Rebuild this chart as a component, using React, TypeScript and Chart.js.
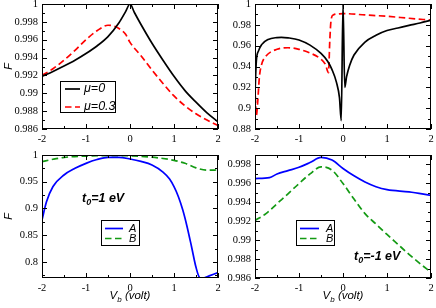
import React, { useEffect, useRef } from 'react';
import { Chart, registerables } from 'chart.js';

Chart.register(...registerables);

const W = 436;
const H = 308;

// ---------- data ----------
const X_TICKS = [-2, -1, 0, 1, 2];

// top-left panel
const TL_Y_TICKS = [0.986, 0.988, 0.99, 0.992, 0.994, 0.996, 0.998, 1];
const TL_MU0_X = [-2, -1.75, -1.5, -1.25, -1, -0.75, -0.5, -0.25, -0.1, 0, 0.1, 0.25, 0.5, 0.75, 1, 1.25, 1.5, 1.75, 2];
const TL_MU0_Y = [0.9919, 0.99245, 0.99305, 0.9937, 0.99445, 0.9953, 0.99635, 0.9979, 0.99915, 1.0, 0.99905, 0.9977, 0.9956, 0.9937, 0.9919, 0.9903, 0.989, 0.9878, 0.9868];
const TL_MU03_X = [-2, -1.75, -1.5, -1.25, -1, -0.75, -0.5, -0.35, -0.2, -0.1, 0, 0.25, 0.5, 0.75, 1, 1.25, 1.5, 1.75, 2];
const TL_MU03_Y = [0.992, 0.99275, 0.9937, 0.9948, 0.996, 0.997, 0.99762, 0.9975, 0.99708, 0.9966, 0.9957, 0.9942, 0.9926, 0.9911, 0.9897, 0.9886, 0.9877, 0.987, 0.9864];

// top-right panel
const TR_Y_TICKS = [0.88, 0.9, 0.92, 0.94, 0.96, 0.98, 1];
const TR_MU0_X = [-2, -1.97, -1.92, -1.85, -1.7, -1.5, -1.4, -1.25, -1, -0.75, -0.5, -0.35, -0.25, -0.15, -0.08, -0.04, 0, 0.04, 0.08, 0.15, 0.25, 0.5, 0.75, 1, 1.25, 1.5, 1.75, 2];
const TR_MU0_Y = [0.915, 0.945, 0.955, 0.961, 0.966, 0.9678, 0.968, 0.9675, 0.9655, 0.9605, 0.9525, 0.945, 0.937, 0.925, 0.91, 0.888, 1.0, 0.92, 0.93, 0.941, 0.951, 0.9635, 0.97, 0.9745, 0.977, 0.9795, 0.9818, 0.9845];
const TR_MU03_X = [-2, -1.97, -1.94, -1.9, -1.85, -1.75, -1.5, -1.25, -1, -0.75, -0.5, -0.4, -0.33, -0.3, -0.27, -0.22, -0.1, 0, 0.5, 1, 1.5, 2];
const TR_MU03_Y = [0.921, 0.893, 0.905, 0.93, 0.942, 0.95, 0.9565, 0.958, 0.9565, 0.953, 0.947, 0.942, 0.934, 0.965, 0.985, 0.9895, 0.9905, 0.9908, 0.9895, 0.9882, 0.9863, 0.9845];

// bottom-left panel (t0 = 1 eV)
const BL_Y_TICKS = [0.8, 0.85, 0.9, 0.95, 1];
const BL_A_X = [-2, -1.9, -1.75, -1.5, -1.25, -1, -0.75, -0.5, -0.25, 0, 0.25, 0.5, 0.75, 0.9, 1, 1.1, 1.2, 1.3, 1.4, 1.5, 1.58, 1.65, 1.8, 2];
const BL_A_Y = [0.8785, 0.912, 0.941, 0.9626, 0.975, 0.9844, 0.9915, 0.9955, 0.9955, 0.9925, 0.988, 0.9813, 0.968, 0.955, 0.9407, 0.922, 0.897, 0.865, 0.828, 0.79, 0.771, 0.7695, 0.774, 0.78];
const BL_B_X = [-2, -1.75, -1.5, -1, -0.5, 0, 0.5, 0.75, 1, 1.25, 1.5, 1.75, 2];
const BL_B_Y = [0.9875, 0.992, 0.9955, 0.998, 0.999, 0.9985, 0.996, 0.9935, 0.99, 0.9845, 0.976, 0.9715, 0.972];

// bottom-right panel (t0 = -1 eV)
const BR_Y_TICKS = [0.986, 0.988, 0.99, 0.992, 0.994, 0.996, 0.998];
const BR_A_X = [-2, -1.67, -1.5, -1.25, -1, -0.75, -0.5, -0.25, 0, 0.25, 0.5, 0.75, 1, 1.5, 2];
const BR_A_Y = [0.99651, 0.9966, 0.997, 0.99735, 0.9977, 0.9982, 0.99874, 0.99846, 0.99758, 0.9968, 0.99615, 0.99565, 0.99534, 0.9951, 0.99474];
const BR_B_X = [-2, -1.75, -1.5, -1.25, -1, -0.75, -0.5, -0.25, 0, 0.25, 0.5, 0.75, 1, 1.25, 1.5, 1.75, 2];
const BR_B_Y = [0.99208, 0.9928, 0.99386, 0.9949, 0.99598, 0.997, 0.99775, 0.9974, 0.99598, 0.99435, 0.9928, 0.9917, 0.9906, 0.98955, 0.9885, 0.98752, 0.9866];

// ---------- styles ----------
const BLACK = '#000000';
const RED = '#ff0000';
const BLUE = '#0000ff';
const GREEN = '#139a13';
const SOLID: number[] = [];
const DASH = [6.5, 3.5];

const TICK_FONT = { family: '"Liberation Serif", "DejaVu Serif", serif', size: 10.5 };
const fmt = (v: number) => String(+Number(v).toFixed(4));

function series(xs: number[], ys: number[], color: string, dash: number[]) {
  return {
    data: xs.map((x, i) => ({ x, y: ys[i] })),
    borderColor: color,
    borderWidth: 1.7,
    borderDash: dash,
    pointRadius: 0,
    fill: false,
    cubicInterpolationMode: 'monotone' as const,
  };
}

function drawRich(ctx: CanvasRenderingContext2D, parts: { t: string; sub?: boolean }[], x: number, y: number, size: number, style: string, align: 'left' | 'center') {
  const main = `${style} ${size}px "Liberation Sans", Arial, sans-serif`;
  const subf = `${style} ${Math.round(size * 0.7)}px "Liberation Sans", Arial, sans-serif`;
  let total = 0;
  for (const p of parts) {
    ctx.font = p.sub ? subf : main;
    total += ctx.measureText(p.t).width;
  }
  let cx = align === 'center' ? x - total / 2 : x;
  ctx.textBaseline = 'middle';
  ctx.textAlign = 'left';
  for (const p of parts) {
    ctx.font = p.sub ? subf : main;
    ctx.fillText(p.t, cx, p.sub ? y + size * 0.3 : y);
    cx += ctx.measureText(p.t).width;
  }
}

const decoPlugin = {
  id: 'deco',
  afterDraw(chart: any, _args: any, o: any) {
    const ctx: CanvasRenderingContext2D = chart.ctx;
    const a = chart.chartArea;
    const xs = chart.scales.x;
    const ys = chart.scales.y;
    ctx.save();
    ctx.strokeStyle = '#000';
    ctx.fillStyle = '#000';
    ctx.lineWidth = 1;
    ctx.setLineDash([]);
    ctx.strokeRect(a.left + 0.5, a.top + 0.5, a.right - a.left - 1, a.bottom - a.top - 1);

    const MAJ = 5;
    const MIN = 3;
    const minors = (ticks: number[], lo: number, hi: number) => {
      const step = ticks[1] - ticks[0];
      const out: number[] = [];
      for (let v = ticks[0] - step / 2; v <= hi + 1e-9; v += step) if (v >= lo - 1e-9) out.push(v);
      return out;
    };
    ctx.beginPath();
    const xt = (v: number, len: number) => {
      const px = Math.round(xs.getPixelForValue(v)) + 0.5;
      ctx.moveTo(px, a.bottom);
      ctx.lineTo(px, a.bottom - len);
      ctx.moveTo(px, a.top);
      ctx.lineTo(px, a.top + len);
    };
    const yt = (v: number, len: number) => {
      const py = Math.round(ys.getPixelForValue(v)) + 0.5;
      ctx.moveTo(a.left, py);
      ctx.lineTo(a.left + len, py);
      ctx.moveTo(a.right, py);
      ctx.lineTo(a.right - len, py);
    };
    X_TICKS.forEach((v) => xt(v, MAJ));
    minors(X_TICKS, xs.min, xs.max).forEach((v) => xt(v, MIN));
    o.yTicks.forEach((v: number) => yt(v, MAJ));
    minors(o.yTicks, ys.min, ys.max).forEach((v) => yt(v, MIN));
    ctx.stroke();

    // y title
    if (o.yTitle) {
      ctx.save();
      ctx.translate(9, (a.top + a.bottom) / 2);
      ctx.rotate(-Math.PI / 2);
      ctx.font = 'italic 11px "Liberation Sans", Arial, sans-serif';
      ctx.textAlign = 'center';
      ctx.textBaseline = 'middle';
      ctx.fillText('F', 0, 0);
      ctx.restore();
    }
    // x title
    if (o.xTitle) {
      drawRich(ctx, [{ t: 'V' }, { t: 'b', sub: true }, { t: ' (volt)' }], (a.left + a.right) / 2, 296, 11.5, 'italic', 'center');
    }
    // legend
    if (o.legend) {
      const L = o.legend;
      ctx.fillStyle = '#fff';
      ctx.fillRect(L.x, L.y, L.w, L.h);
      ctx.strokeStyle = '#000';
      ctx.lineWidth = 1;
      ctx.strokeRect(L.x + 0.5, L.y + 0.5, L.w, L.h);
      L.items.forEach((it: any, i: number) => {
        const yy = L.y + L.first + i * L.gap;
        ctx.strokeStyle = it.color;
        ctx.lineWidth = 1.7;
        ctx.setLineDash(it.dash);
        ctx.beginPath();
        ctx.moveTo(L.x + L.lineX0, yy);
        ctx.lineTo(L.x + L.lineX1, yy);
        ctx.stroke();
        ctx.setLineDash([]);
        ctx.fillStyle = '#000';
        ctx.font = `italic ${L.size}px "Liberation Sans", Arial, sans-serif`;
        ctx.textAlign = 'left';
        ctx.textBaseline = 'middle';
        ctx.fillText(it.label, L.x + L.textX, yy);
      });
    }
    // annotation
    if (o.note) {
      ctx.fillStyle = '#000';
      drawRich(ctx, [{ t: 't' }, { t: '0', sub: true }, { t: o.note.text }], o.note.x, o.note.y, 12.5, 'bold italic', 'left');
    }
    ctx.restore();
  },
};

type PanelDef = {
  area: { left: number; top: number; right: number; bottom: number };
  yMin: number;
  yMax: number;
  yTicks: number[];
  datasets: any[];
  deco: any;
};

const PANELS: PanelDef[] = [
  {
    area: { left: 42, top: 4, right: 218, bottom: 129 },
    yMin: 0.986,
    yMax: 1,
    yTicks: TL_Y_TICKS,
    datasets: [series(TL_MU0_X, TL_MU0_Y, BLACK, SOLID), series(TL_MU03_X, TL_MU03_Y, RED, DASH)],
    deco: {
      yTitle: true,
      legend: {
        x: 60, y: 81, w: 55, h: 31, first: 8, gap: 18, lineX0: 5, lineX1: 20, textX: 24, size: 12.5,
        items: [
          { label: 'μ=0', color: BLACK, dash: SOLID },
          { label: 'μ=0.3', color: RED, dash: DASH },
        ],
      },
    },
  },
  {
    area: { left: 255, top: 4, right: 431, bottom: 129 },
    yMin: 0.88,
    yMax: 1,
    yTicks: TR_Y_TICKS,
    datasets: [series(TR_MU0_X, TR_MU0_Y, BLACK, SOLID), series(TR_MU03_X, TR_MU03_Y, RED, DASH)],
    deco: {},
  },
  {
    area: { left: 42, top: 155, right: 218, bottom: 278 },
    yMin: 0.77,
    yMax: 1,
    yTicks: BL_Y_TICKS,
    datasets: [series(BL_A_X, BL_A_Y, BLUE, SOLID), series(BL_B_X, BL_B_Y, GREEN, DASH)],
    deco: {
      yTitle: true,
      xTitle: true,
      legend: {
        x: 101, y: 220, w: 38, h: 25, first: 8.5, gap: 10, lineX0: 4, lineX1: 22, textX: 28, size: 11,
        items: [
          { label: 'A', color: BLUE, dash: SOLID },
          { label: 'B', color: GREEN, dash: DASH },
        ],
      },
      note: { text: '=1 eV', x: 82, y: 199 },
    },
  },
  {
    area: { left: 255, top: 155, right: 431, bottom: 278 },
    yMin: 0.986,
    yMax: 0.999,
    yTicks: BR_Y_TICKS,
    datasets: [series(BR_A_X, BR_A_Y, BLUE, SOLID), series(BR_B_X, BR_B_Y, GREEN, DASH)],
    deco: {
      xTitle: true,
      legend: {
        x: 296, y: 220, w: 38, h: 25, first: 8.5, gap: 10, lineX0: 4, lineX1: 23, textX: 30, size: 11,
        items: [
          { label: 'A', color: BLUE, dash: SOLID },
          { label: 'B', color: GREEN, dash: DASH },
        ],
      },
      note: { text: '=-1 eV', x: 354, y: 257 },
    },
  },
];

const Y_AXIS_W = 40;
const X_AXIS_H = 20;

function Panel({ def }: { def: PanelDef }) {
  const ref = useRef<HTMLCanvasElement>(null);
  useEffect(() => {
    const canvas = ref.current;
    if (!canvas) return;
    const a = def.area;
    const chart = new Chart(canvas, {
      type: 'line',
      data: { datasets: def.datasets },
      plugins: [decoPlugin as any],
      options: {
        animation: false,
        responsive: false,
        devicePixelRatio: 1,
        events: [],
        layout: {
          padding: {
            left: a.left - Y_AXIS_W,
            top: a.top,
            right: W - a.right,
            bottom: H - a.bottom - X_AXIS_H,
          },
        },
        plugins: {
          legend: { display: false },
          tooltip: { enabled: false },
          deco: { ...def.deco, yTicks: def.yTicks },
        } as any,
        scales: {
          x: {
            type: 'linear',
            min: -2,
            max: 2,
            grid: { display: false, drawTicks: false },
            border: { display: false },
            afterFit: (s: any) => {
              s.height = X_AXIS_H;
              s.paddingLeft = 0;
              s.paddingRight = 0;
            },
            afterBuildTicks: (s: any) => {
              s.ticks = X_TICKS.map((v) => ({ value: v }));
            },
            ticks: {
              autoSkip: false,
              maxRotation: 0,
              padding: 4,
              color: '#000',
              font: TICK_FONT,
              callback: (v: any) => fmt(v),
            },
          },
          y: {
            type: 'linear',
            min: def.yMin,
            max: def.yMax,
            grid: { display: false, drawTicks: false },
            border: { display: false },
            afterFit: (s: any) => {
              s.width = Y_AXIS_W;
              s.paddingTop = 0;
              s.paddingBottom = 0;
            },
            afterBuildTicks: (s: any) => {
              s.ticks = def.yTicks.map((v) => ({ value: v }));
            },
            ticks: {
              autoSkip: false,
              padding: 4,
              color: '#000',
              font: TICK_FONT,
              callback: (v: any) => fmt(v),
            },
          },
        },
      } as any,
    });
    return () => chart.destroy();
  }, [def]);
  return (
    <canvas
      ref={ref}
      width={W}
      height={H}
      style={{ position: 'absolute', left: 0, top: 0, width: W, height: H }}
    />
  );
}

export default function App() {
  return (
    <div style={{ position: 'fixed', left: 0, top: 0, width: W, height: H, background: '#fff', overflow: 'hidden' }}>
      {PANELS.map((p, i) => (
        <Panel key={i} def={p} />
      ))}
    </div>
  );
}
